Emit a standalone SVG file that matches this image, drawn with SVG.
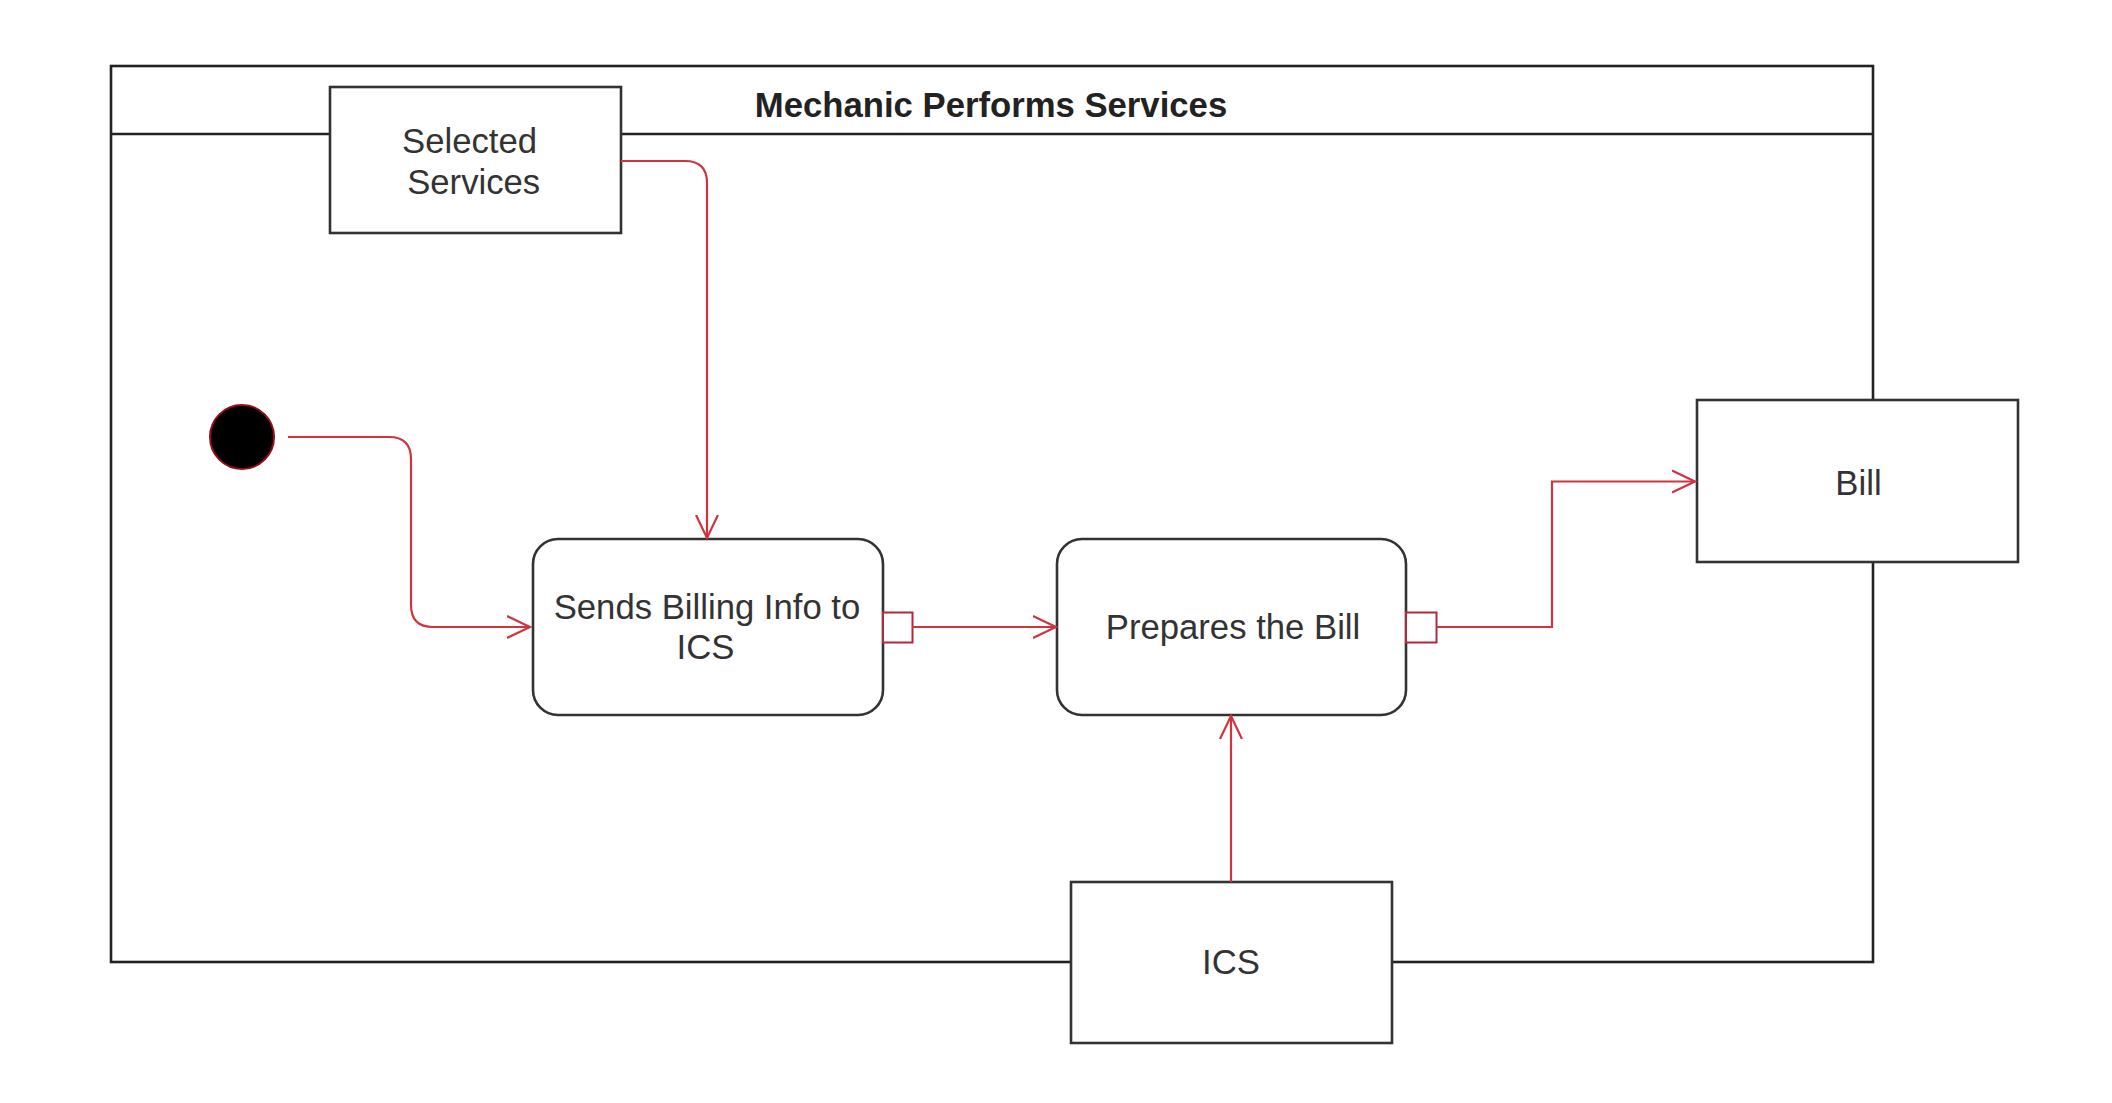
<svg xmlns="http://www.w3.org/2000/svg" width="2112" height="1103" viewBox="0 0 2112 1103">
<defs>
<style>
.frame{fill:none;stroke:#222;stroke-width:2.6}
.box{fill:#fff;stroke:#333;stroke-width:2.6}
.pin{fill:#fff;stroke:#b02a3a;stroke-width:2}
.conn{fill:none;stroke:#d0343f;stroke-width:2.2}
.t{font-family:"Liberation Sans",Arial,sans-serif;font-size:34.7px;fill:#333;text-anchor:middle}
.title{font-weight:bold;fill:#222}
</style>
<marker id="arr" markerUnits="userSpaceOnUse" markerWidth="26" markerHeight="26" refX="23" refY="11" orient="auto" viewBox="0 0 26 22">
<path d="M0,0 L23,11 L0,22" fill="none" stroke="#d0343f" stroke-width="2.2"/>
</marker>
</defs>
<rect width="2112" height="1103" fill="#fff"/>
<g id="frame">
<rect class="frame" x="111" y="66" width="1762" height="896"/>
<line class="frame" x1="111" y1="134" x2="1873" y2="134"/>
<text class="t title" x="991" y="117">Mechanic Performs Services</text>
</g>
<g id="selected-services">
<rect class="box" x="330" y="87" width="291" height="146"/>
<text class="t" x="469.5" y="153">Selected</text>
<text class="t" x="473.7" y="193.5">Services</text>
</g>
<g id="initial">
<circle cx="242" cy="437" r="32" fill="#000" stroke="#9a0a1a" stroke-width="2"/>
</g>
<g id="sends-billing">
<rect class="box" x="533" y="539" width="350" height="176" rx="25" ry="25"/>
<text class="t" x="707" y="619">Sends Billing Info to</text>
<text class="t" x="705.5" y="659">ICS</text>
<rect class="pin" x="883" y="612.5" width="29.5" height="30"/>
</g>
<g id="prepares-bill">
<rect class="box" x="1057" y="539" width="349" height="176" rx="25" ry="25"/>
<text class="t" x="1233" y="639">Prepares the Bill</text>
<rect class="pin" x="1406" y="612.5" width="30.5" height="30"/>
</g>
<g id="bill">
<rect class="box" x="1697" y="400" width="321" height="162"/>
<text class="t" x="1858.5" y="494.5">Bill</text>
</g>
<g id="ics">
<rect class="box" x="1071" y="882" width="321" height="161"/>
<text class="t" x="1231" y="974">ICS</text>
</g>
<g id="connectors">
<path class="conn" marker-end="url(#arr)" d="M288,437 H389 Q411,437 411,459 V605 Q411,627 433,627 H530"/>
<path class="conn" marker-end="url(#arr)" d="M621,161 H685 Q707,161 707,183 V538"/>
<path class="conn" marker-end="url(#arr)" d="M912.5,627 H1056"/>
<path class="conn" marker-end="url(#arr)" d="M1436.5,627 H1552 V481.5 H1695"/>
<path class="conn" marker-end="url(#arr)" d="M1231,882 V716"/>
</g>
</svg>
